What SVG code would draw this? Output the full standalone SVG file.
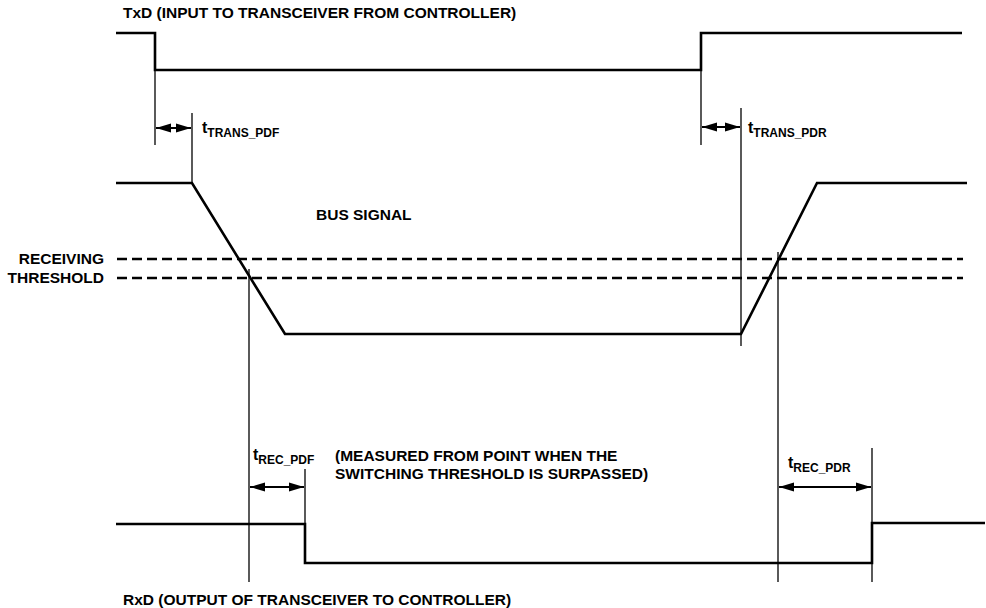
<svg xmlns="http://www.w3.org/2000/svg" width="986" height="608" viewBox="0 0 986 608">
<defs>
<marker id="ah" viewBox="0 0 15 10" refX="15" refY="5" markerWidth="15" markerHeight="10" markerUnits="userSpaceOnUse" orient="auto-start-reverse">
<path d="M0,0.5 L15,5 L0,9.5 Z" fill="#000"/>
</marker>
<style>
.sig{fill:none;stroke:#000;stroke-width:2.6;stroke-linejoin:miter}
.thin{fill:none;stroke:#000;stroke-width:1.3}
.dash{fill:none;stroke:#000;stroke-width:2.6;stroke-dasharray:10 5}
.arr{fill:none;stroke:#000;stroke-width:1.8;marker-start:url(#ah);marker-end:url(#ah)}
text{font-family:"Liberation Sans",Arial,sans-serif;font-weight:bold;fill:#000}
.lbl{font-size:15.5px}
.t{font-size:16px}
.sub{font-size:12px}
</style>
</defs>
<rect width="986" height="608" fill="#fff"/>

<g id="txd">
<polyline class="sig" points="116,33 155,33 155,70 701,70 701,33 962,33"/>
<text class="lbl" x="123" y="18">TxD (INPUT TO TRANSCEIVER FROM CONTROLLER)</text>
</g>

<g id="bus">
<polyline class="sig" points="116,183 192,183 285,334 741,334 817,183 967,183"/>
<text class="lbl" x="316" y="220">BUS SIGNAL</text>
</g>

<g id="threshold">
<line class="dash" x1="117" y1="259" x2="963" y2="259"/>
<line class="dash" x1="117" y1="278" x2="963" y2="278"/>
<text class="lbl" x="104" y="264" text-anchor="end">RECEIVING</text>
<text class="lbl" x="104" y="283" text-anchor="end">THRESHOLD</text>
</g>

<g id="rxd">
<polyline class="sig" points="116,524 305,524 305,563 872,563 872,523 985,523"/>
<text class="lbl" x="123" y="605">RxD (OUTPUT OF TRANSCEIVER TO CONTROLLER)</text>
</g>

<g id="note">
<text class="lbl" x="335" y="461">(MEASURED FROM POINT WHEN THE</text>
<text class="lbl" x="335" y="479">SWITCHING THRESHOLD IS SURPASSED)</text>
</g>

<g id="connectors">
<line class="thin" x1="155" y1="70" x2="155" y2="145"/>
<line class="thin" x1="192" y1="113" x2="192" y2="183"/>
<line class="thin" x1="701" y1="70" x2="701" y2="145"/>
<line class="thin" x1="741" y1="108" x2="741" y2="346"/>
<line class="thin" x1="249" y1="269" x2="249" y2="582"/>
<line class="thin" x1="778" y1="252" x2="778" y2="582"/>
<line class="thin" x1="305" y1="469" x2="305" y2="524"/>
<line class="thin" x1="872" y1="448" x2="872" y2="582"/>
<line class="arr" x1="156" y1="128" x2="191" y2="128"/>
<line class="arr" x1="702" y1="127" x2="740" y2="127"/>
<line class="arr" x1="250" y1="487" x2="304" y2="487"/>
<line class="arr" x1="779" y1="487" x2="871" y2="487"/>
</g>

<g id="labels">
<text x="202" y="133"><tspan class="t">t</tspan><tspan class="sub" dy="4">TRANS_PDF</tspan></text>
<text x="748" y="133"><tspan class="t">t</tspan><tspan class="sub" dy="4">TRANS_PDR</tspan></text>
<text x="253" y="460"><tspan class="t">t</tspan><tspan class="sub" dy="4">REC_PDF</tspan></text>
<text x="788" y="468"><tspan class="t">t</tspan><tspan class="sub" dy="4">REC_PDR</tspan></text>
</g>
</svg>
